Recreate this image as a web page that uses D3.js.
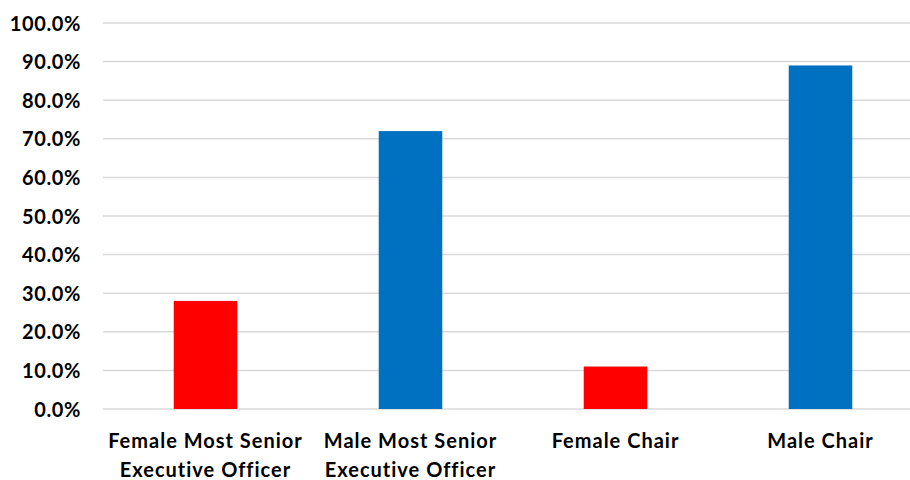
<!DOCTYPE html>
<html>
<head>
<meta charset="utf-8">
<script src="https://cdn.jsdelivr.net/npm/d3@7"></script>
<style>
  body { margin: 0; background: #fff; }
  svg text { font-family: Lato, "Open Sans", sans-serif; font-weight: bold; fill: #000; }
</style>
</head>
<body>
<div id="chart"></div>
<script>
const categories = [
  ['Female Most Senior', 'Executive Officer'],
  ['Male Most Senior', 'Executive Officer'],
  ['Female Chair'],
  ['Male Chair'],
];
const values = [0.28, 0.72, 0.11, 0.89];
const colors = ['#ff0000', '#0070c0', '#ff0000', '#0070c0'];
const yTicks = [0, 0.1, 0.2, 0.3, 0.4, 0.5, 0.6, 0.7, 0.8, 0.9, 1.0];

const width = 910;
const height = 480;
const margin = { top: 23, right: -13, bottom: 71, left: 103 };

const svg = d3.select('#chart')
  .append('svg')
  .attr('width', width)
  .attr('height', height);

const x = d3.scaleBand()
  .domain(d3.range(categories.length))
  .range([margin.left, width - margin.right])
  .paddingInner(0.69)
  .paddingOuter(0.345);

const y = d3.scaleLinear()
  .domain([0, 1])
  .range([height - margin.bottom, margin.top]);

// gridlines
svg.append('g')
  .selectAll('line')
  .data(yTicks)
  .join('line')
  .attr('x1', margin.left)
  .attr('x2', width - margin.right)
  .attr('y1', (d) => y(d))
  .attr('y2', (d) => y(d))
  .attr('stroke', '#d9d9d9')
  .attr('stroke-width', 1.5);

// y axis labels
const yAxis = svg.append('g')
  .attr('transform', `translate(${margin.left - 22},0)`)
  .call(d3.axisLeft(y).tickValues(yTicks).tickFormat(d3.format('.1%')).tickSize(0));
yAxis.select('.domain').remove();
yAxis.selectAll('text')
  .attr('x', 0)
  .attr('dy', '0.35em')
  .style('font-size', '20px')
  .style('letter-spacing', '0.6px');

// bars
svg.append('g')
  .selectAll('rect')
  .data(values)
  .join('rect')
  .attr('x', (d, i) => x(i))
  .attr('y', (d) => y(d))
  .attr('width', x.bandwidth())
  .attr('height', (d) => y(0) - y(d))
  .attr('fill', (d, i) => colors[i]);

// x labels
const xl = svg.append('g')
  .selectAll('text')
  .data(categories)
  .join('text')
  .attr('x', (d, i) => x(i) + x.bandwidth() / 2)
  .attr('y', 448)
  .attr('text-anchor', 'middle')
  .style('font-size', '20px')
  .style('letter-spacing', '1px');
xl.selectAll('tspan')
  .data((d) => d)
  .join('tspan')
  .attr('x', function () { return d3.select(this.parentNode).attr('x'); })
  .attr('dy', (d, i) => (i === 0 ? 0 : 29))
  .text((d) => d);
</script>
</body>
</html>
